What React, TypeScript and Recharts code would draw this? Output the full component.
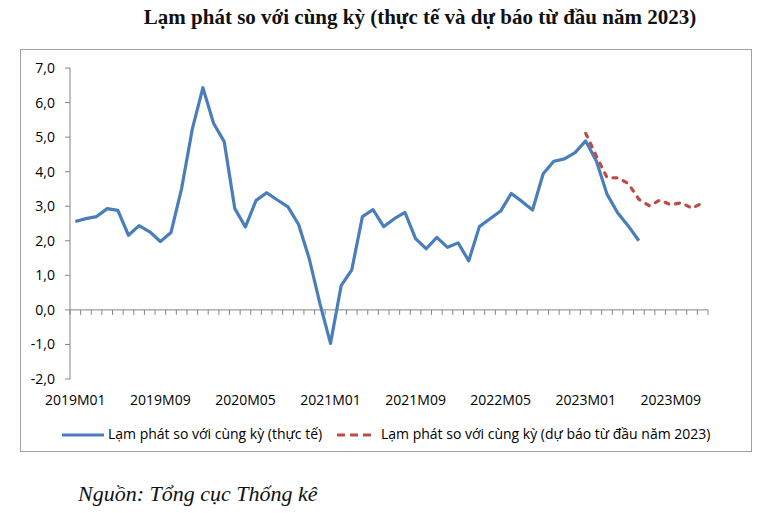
import React from 'react';
import { LineChart, Line, XAxis, YAxis, ReferenceLine, Legend } from 'recharts';

// months shown on the axis: 2019M01 .. 2023M12
const years = [2019, 2020, 2021, 2022, 2023];
const months = years.flatMap((y) =>
  Array.from({ length: 12 }, (_, m) => `${y}M${String(m + 1).padStart(2, '0')}`)
);

const labelledMonths = ['2019M01', '2019M09', '2020M05', '2021M01', '2021M09', '2022M05', '2023M01', '2023M09'];

// actual yoy inflation, 2019M01 .. 2023M06
const actual = [
  2.56, 2.64, 2.70, 2.93, 2.88, 2.16, 2.44, 2.26, 1.98, 2.24, 3.52, 5.23,
  6.43, 5.40, 4.87, 2.93, 2.40, 3.17, 3.39, 3.18, 2.98, 2.47, 1.48, 0.19,
  -0.97, 0.70, 1.16, 2.70, 2.90, 2.41, 2.64, 2.82, 2.06, 1.77, 2.10, 1.81,
  1.94, 1.42, 2.41, 2.64, 2.86, 3.37, 3.14, 2.89, 3.94, 4.30, 4.37, 4.55,
  4.89, 4.31, 3.35, 2.81, 2.43, 2.00,
];

// forecast made at the start of 2023, 2023M01 .. 2023M12
const forecastStart = '2023M01';
const forecast = [5.11, 4.45, 3.83, 3.82, 3.66, 3.20, 3.01, 3.18, 3.04, 3.10, 2.94, 3.10];

const yTicks = [-2, -1, 0, 1, 2, 3, 4, 5, 6, 7];

const fStart = months.indexOf(forecastStart);
const data = months.map((m, i) => ({
  month: m,
  actual: i < actual.length ? actual[i] : undefined,
  forecast: i >= fStart && i - fStart < forecast.length ? forecast[i - fStart] : undefined,
}));

const BLUE = '#4A7EBB';
const RED = '#BE4B48';
const AXIS = '#868686';
const FONT = '"Open Sans", sans-serif';

const CW = 732;
const CH = 403;
const M = { top: 19, right: 44, left: 0, bottom: 2 };
const YW = 50;
const XH = 41;
const LH = 30;
const plotW = CW - M.left - M.right - YW;
const plotH = CH - M.top - M.bottom - XH - LH;
const half = plotW / months.length / 2;
const zeroY = M.top + (plotH * 7) / 9;

const MonthTick = (props: any) => {
  const { x, y, payload, index } = props;
  return (
    <g>
      <line x1={x - half} x2={x - half} y1={zeroY} y2={zeroY + 5} stroke={AXIS} />
      {index === months.length - 1 && (
        <line x1={x + half} x2={x + half} y1={zeroY} y2={zeroY + 5} stroke={AXIS} />
      )}
      {labelledMonths.includes(payload.value) && (
        <text x={x} y={y + 18} textAnchor="middle" fill="#000" fontSize={14} fontFamily={FONT}>
          {payload.value}
        </text>
      )}
    </g>
  );
};

const LegendBox = () => (
  <div style={{ position: 'relative', width: CW, height: LH, fontFamily: FONT, fontSize: 14, color: '#000' }}>
    <svg style={{ position: 'absolute', left: 42, top: 10 }} width={42} height={10}>
      <line x1={0} x2={42} y1={5} y2={5} stroke={BLUE} strokeWidth={3} />
    </svg>
    <span style={{ position: 'absolute', left: 88, top: 4, whiteSpace: 'nowrap' }}>
      Lạm phát so với cùng kỳ (thực tế)
    </span>
    <svg style={{ position: 'absolute', left: 315, top: 10 }} width={40} height={10}>
      <line x1={2} x2={38} y1={5} y2={5} stroke={RED} strokeWidth={3} strokeDasharray="8 5" />
    </svg>
    <span style={{ position: 'absolute', left: 361, top: 4, whiteSpace: 'nowrap' }}>
      Lạm phát so với cùng kỳ (dự báo từ đầu năm 2023)
    </span>
  </div>
);

export default function App() {
  return (
    <div style={{ position: 'absolute', left: 0, top: 0, width: 770, height: 513, background: '#fff', overflow: 'hidden' }}>
      <div
        style={{
          position: 'absolute', left: 20, top: 5, width: 800, textAlign: 'center',
          fontFamily: '"Liberation Serif", serif', fontWeight: 'bold', fontSize: 21, color: '#111', whiteSpace: 'nowrap',
        }}
      >
        Lạm phát so với cùng kỳ (thực tế và dự báo từ đầu năm 2023)
      </div>
      <div
        style={{
          position: 'absolute', left: 20, top: 49, width: CW, height: CH,
          border: '1px solid #a0a0a0', boxSizing: 'border-box',
        }}
      />
      <div style={{ position: 'absolute', left: 20, top: 49 }}>
        <LineChart width={CW} height={CH} data={data} margin={M}>
          <XAxis
            dataKey="month"
            interval={0}
            axisLine={false}
            tickLine={false}
            height={XH}
            padding={{ left: half, right: half }}
            tick={<MonthTick />}
          />
          <YAxis
            domain={[-2, 7]}
            ticks={yTicks}
            width={YW}
            tickSize={5}
            tickMargin={10}
            axisLine={{ stroke: AXIS }}
            tickLine={{ stroke: AXIS }}
            tick={{ fill: '#000', fontSize: 14, fontFamily: FONT }}
            tickFormatter={(v: number) => v.toFixed(1).replace('.', ',')}
          />
          <ReferenceLine y={0} stroke={AXIS} />
          <Legend verticalAlign="bottom" height={LH} content={<LegendBox />} wrapperStyle={{ left: 0, width: CW }} />
          <Line
            dataKey="actual"
            stroke={BLUE}
            strokeWidth={3.2}
            dot={false}
            isAnimationActive={false}
            strokeLinejoin="round"
          />
          <Line
            dataKey="forecast"
            stroke={RED}
            strokeWidth={3.2}
            strokeDasharray="4 7"
            strokeLinecap="round"
            dot={false}
            isAnimationActive={false}
          />
        </LineChart>
      </div>
      <div
        style={{
          position: 'absolute', left: 78, top: 481, fontFamily: '"Liberation Serif", serif',
          fontStyle: 'italic', fontSize: 22, color: '#111', whiteSpace: 'nowrap',
        }}
      >
        Nguồn: Tổng cục Thống kê
      </div>
    </div>
  );
}
